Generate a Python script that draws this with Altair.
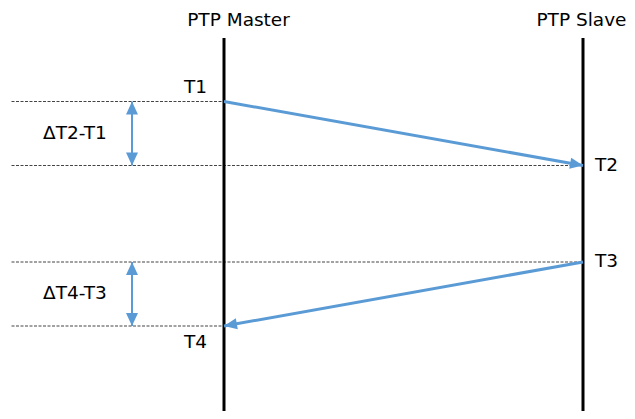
import altair as alt
import pandas as pd
import numpy as np

# ---- diagram data ----
nodes = ["PTP Master", "PTP Slave"]
node_x = [224, 583]
events = ["T1", "T2", "T3", "T4"]
event_node = ["PTP Master", "PTP Slave", "PTP Slave", "PTP Master"]
event_y = [101.5, 165.5, 262, 326]
msg_from = ["T1", "T3"]
msg_to = ["T2", "T4"]
gap_labels = ["ΔT2-T1", "ΔT4-T3"]
gap_from = ["T1", "T3"]
gap_to = ["T2", "T4"]

# ---- layout constants ----
W, H = 619, 403          # canvas size (page is 635x419 with 8px margin)
LIFE_TOP = 38
PAGE_BOTTOM = 419
GUIDE_LEFT = 11.5
BRACKET_X = 132
BLUE = "#5B9BD5"
FONT = "DejaVu Sans"
FS = 18.5
ARROW = "M0,0L-2,-0.85L-2,0.85Z"

pos = dict(zip(nodes, node_x))
ev_x = {e: pos[n] for e, n in zip(events, event_node)}
ev_y = dict(zip(events, event_y))

# data coordinates == page pixel coordinates
X = alt.Scale(domain=[8, 8 + W], zero=False, nice=False)
Y = alt.Scale(domain=[8, 8 + H], reverse=True, zero=False, nice=False)

life = pd.DataFrame({"node": nodes, "x": node_x, "y": LIFE_TOP, "y2": PAGE_BOTTOM})
guides = pd.DataFrame({"event": events, "x": GUIDE_LEFT,
                       "x2": [ev_x[e] for e in events], "y": event_y})
msgs = pd.DataFrame({
    "x": [ev_x[e] for e in msg_from], "y": [ev_y[e] for e in msg_from],
    "x2": [ev_x[e] for e in msg_to], "y2": [ev_y[e] for e in msg_to]})
msgs["angle"] = np.degrees(np.arctan2(msgs.y2 - msgs.y, msgs.x2 - msgs.x)) % 360
heads = pd.DataFrame({"x": msgs.x2, "y": msgs.y2, "angle": msgs.angle})
gaps = pd.DataFrame({"label": gap_labels, "x": BRACKET_X,
                     "y": [ev_y[e] for e in gap_from], "y2": [ev_y[e] for e in gap_to]})
gaps["mid"] = (gaps.y + gaps.y2) / 2
gap_heads = pd.DataFrame({
    "x": BRACKET_X,
    "y": list(gaps.y) + list(gaps.y2),
    "angle": [270] * len(gaps) + [90] * len(gaps)})
evt = pd.DataFrame({"event": events, "node": event_node,
                    "x": [ev_x[e] for e in events], "y": event_y})

def xq(f="x"):
    return alt.X(f + ":Q", scale=X, axis=None)

def yq(f="y"):
    return alt.Y(f + ":Q", scale=Y, axis=None)

lifelines = alt.Chart(life).mark_rule(color="black", strokeWidth=3).encode(
    x=xq(), y=yq(), y2="y2:Q")

guide_lines = alt.Chart(guides).mark_rule(
    color="#444444", strokeWidth=1, strokeDash=[3, 1.5]).encode(
    x=xq(), x2="x2:Q", y=yq())

msg_lines = alt.Chart(msgs).mark_rule(color=BLUE, strokeWidth=3).encode(
    x=xq(), y=yq(), x2="x2:Q", y2="y2:Q")

msg_heads = alt.Chart(heads).mark_point(
    shape=ARROW, filled=True, size=169, color=BLUE, opacity=1, strokeWidth=0).encode(
    x=xq(), y=yq(), angle=alt.Angle("angle:Q", scale=None))

gap_lines = alt.Chart(gaps).mark_rule(color=BLUE, strokeWidth=2).encode(
    x=xq(), y=yq(), y2="y2:Q")

gap_head_marks = alt.Chart(gap_heads).mark_point(
    shape="M0,0L-2,-0.92L-2,0.92Z", filled=True, size=169, color=BLUE,
    opacity=1, strokeWidth=0).encode(
    x=xq(), y=yq(), angle=alt.Angle("angle:Q", scale=None))

gap_text = alt.Chart(gaps).mark_text(
    font=FONT, fontSize=FS, color="black", align="center", baseline="alphabetic",
    dx=-57, dy=5).encode(x=xq(), y=yq("mid"), text="label:N")

master_hdr = alt.Chart(life[life.node == "PTP Master"]).mark_text(
    font=FONT, fontSize=FS, color="black", align="center", baseline="alphabetic",
    dx=14.5, dy=-12).encode(x=xq(), y=yq(), text="node:N")
slave_hdr = alt.Chart(life[life.node == "PTP Slave"]).mark_text(
    font=FONT, fontSize=FS, color="black", align="right", baseline="alphabetic",
    dx=43.5, dy=-12).encode(x=xq(), y=yq(), text="node:N")

t1 = alt.Chart(evt[evt.event == "T1"]).mark_text(
    font=FONT, fontSize=FS, color="black", align="right", baseline="alphabetic",
    dx=-17, dy=-9).encode(x=xq(), y=yq(), text="event:N")
t4 = alt.Chart(evt[evt.event == "T4"]).mark_text(
    font=FONT, fontSize=FS, color="black", align="right", baseline="alphabetic",
    dx=-17, dy=22).encode(x=xq(), y=yq(), text="event:N")
slave_t = alt.Chart(evt[evt.node == "PTP Slave"]).mark_text(
    font=FONT, fontSize=FS, color="black", align="left", baseline="alphabetic",
    dx=12, dy=5).encode(x=xq(), y=yq(), text="event:N")

chart = alt.layer(
    guide_lines, lifelines, msg_lines, msg_heads, gap_lines, gap_head_marks,
    gap_text, master_hdr, slave_hdr, t1, t4, slave_t
).properties(width=W, height=H, padding=0, autosize="none").configure_view(strokeWidth=0)

chart.save("out.html", embed_options={"renderer": "svg", "actions": False})
